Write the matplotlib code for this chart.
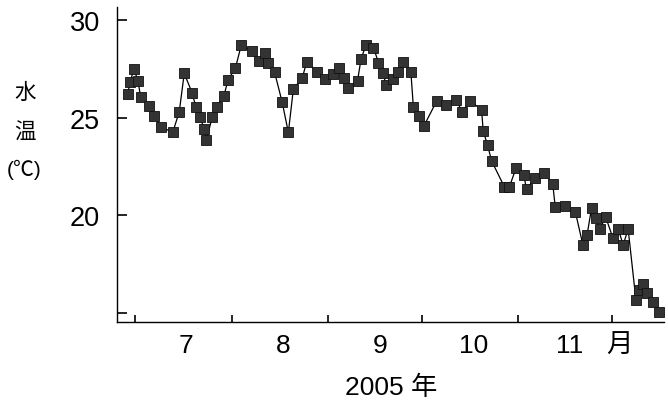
import numpy as np
import matplotlib
matplotlib.use('Agg')
import matplotlib.pyplot as plt

plt.rcParams['font.family'] = ['Liberation Sans', 'Noto Sans CJK JP']

# day of year 2005, water temperature (deg C)
day = [179.7, 180.4, 181.7, 183.0, 183.8, 186.4, 188.1, 190.4, 194.1, 196.2,
       197.8, 200.3, 201.5, 202.9, 204.1, 204.9, 206.8, 208.2, 210.5, 211.8,
       214.2, 216.1, 219.4, 221.7, 223.7, 224.7, 226.8, 229.2, 231.2, 232.8,
       235.7, 237.1, 240.3, 243.0, 245.4, 247.3, 249.1, 250.2, 253.4, 254.5,
       256.1, 258.5, 260.1, 261.7, 262.5, 264.9, 266.4, 268.1, 270.5, 271.3,
       273.1, 274.7, 278.8, 281.9, 285.0, 287.0, 289.6, 293.2, 293.7, 295.1,
       296.4, 300.5, 302.1, 304.3, 306.7, 307.6, 310.3, 313.3, 316.0, 316.8,
       319.9, 323.3, 325.7, 327.0, 328.5, 329.8, 331.1, 333.0, 335.3, 337.0,
       338.6, 340.2, 342.7, 343.8, 345.1, 346.3, 348.1, 350.0]
temp = [26.25, 26.84, 27.50, 26.87, 26.08, 25.61, 25.10, 24.54, 24.25, 25.31,
        27.28, 26.30, 25.58, 25.05, 24.45, 23.87, 25.05, 25.58, 26.10, 26.93,
        27.55, 28.73, 28.43, 27.92, 28.32, 27.84, 27.33, 25.82, 24.25, 26.47,
        27.07, 27.88, 27.38, 26.98, 27.24, 27.58, 27.07, 26.52, 26.90, 28.01,
        28.74, 28.61, 27.84, 27.28, 26.68, 26.98, 27.38, 27.87, 27.36, 25.56,
        25.10, 24.59, 25.87, 25.65, 25.92, 25.31, 25.89, 25.39, 24.33, 23.60,
        22.79, 21.46, 21.46, 22.45, 22.08, 21.34, 21.91, 22.15, 21.63, 20.45,
        20.49, 20.15, 18.47, 18.97, 20.40, 19.87, 19.29, 19.91, 18.84, 19.31,
        18.48, 19.29, 15.65, 16.19, 16.47, 16.01, 15.57, 15.06]

month_start = [182, 213, 244, 274, 305, 335]
month_names = ['7', '8', '9', '10', '11', '月']
yticks = [15, 20, 25, 30]
ytick_labels = ['', '20', '25', '30']

fig = plt.figure(figsize=(6.68, 4.10), dpi=100)
ax = fig.add_axes([0.175, 0.212, 0.819, 0.768])

ax.plot(day, temp, '-', color='k', lw=0.9, marker='s', ms=7.3,
        mfc='#333333', mec='#111111', mew=0.6)

ax.set_xlim(176.2, 351.7)
ax.set_ylim(14.52, 30.68)

for s in ['top', 'right']:
    ax.spines[s].set_visible(False)
for s in ['left', 'bottom']:
    ax.spines[s].set_linewidth(1.0)

ax.set_yticks(yticks)
ax.set_yticklabels(ytick_labels)
ax.tick_params(axis='y', direction='in', length=7.5, width=1.2,
               labelsize=19.5, pad=12)

# month boundaries as ticks, month numbers in between
label_pos = [m + 16.5 for m in month_start[:-1]] + [month_start[-1] + 2.5]
ax.set_xticks(month_start)
ax.set_xticklabels([])
ax.set_xticks(label_pos, minor=True)
ax.set_xticklabels(month_names, minor=True)
ax.tick_params(axis='x', which='major', direction='in', length=5, width=1.2)
ax.tick_params(axis='x', which='minor', length=0, labelsize=19, pad=8)

fig.text(25 / 668, 1 - 93 / 410, '水', ha='center', va='center', fontsize=15.5)
fig.text(25 / 668, 1 - 133 / 410, '温', ha='center', va='center', fontsize=15.5)
fig.text(24 / 668, 1 - 170 / 410, '(℃)', ha='center', va='center', fontsize=15)
fig.text(391 / 668, 1 - 388 / 410, '2005 年', ha='center', va='center', fontsize=19)

fig.savefig('out.png', dpi=100)
